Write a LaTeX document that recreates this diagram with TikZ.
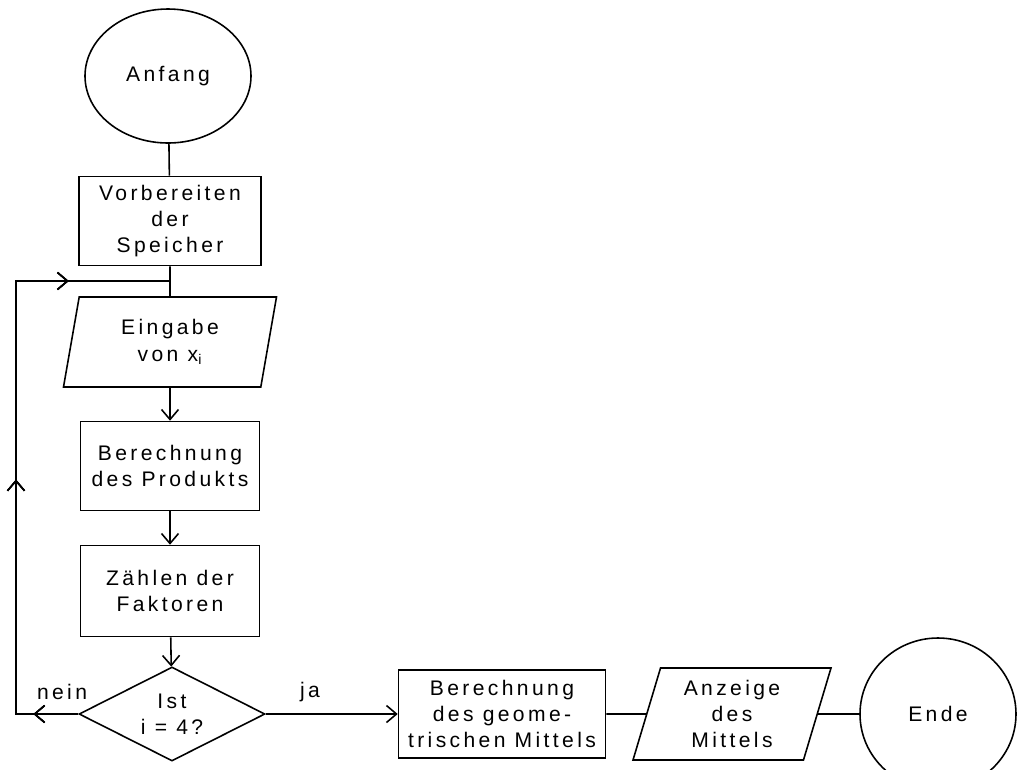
\documentclass[tikz,border=0pt]{standalone}
\usepackage{fontspec}
\setmainfont{Liberation Sans}[LetterSpace=16]
\usetikzlibrary{shapes.geometric,arrows.meta,decorations.markings}
\newlength\pu \setlength\pu{0.02cm}
\tikzset{
  every node/.style={font=\fontsize{12}{15}\selectfont, align=center, inner sep=1pt},
  kasten/.style={draw, rectangle},
  oval/.style={draw, ellipse},
  ein/.style={draw, trapezium, trapezium stretches body, trapezium right angle=180-#1, trapezium left angle=#1},
  raute/.style={draw, diamond, aspect=2},
  pfeil/.style={-{Straight Barb[length=2mm,width=3.4mm]}},
  marke/.style={decoration={markings,mark=at position #1 with {\arrow{Straight Barb[length=2mm,width=3.4mm]}}}, postaction={decorate}}
}
\begin{document}
\begin{tikzpicture}[x=\pu, y=-\pu, line width=0.9pt]
\useasboundingbox (0,0) rectangle (1018,769);
\draw(168,76) node[oval, minimum width=166\pu, minimum height=134\pu] (anfang) {Anfang};
\draw(170,221) node[kasten, minimum width=182\pu, minimum height=89\pu] (speicher) {Vorbereiten\\der\\Speicher};
\coordinate (j) at (170,281);
\draw(170,342) node[ein=72, minimum width=213\pu, minimum height=90\pu] (eingabe) {Eingabe\\von x\textsubscript{i}};
\draw(170,466) node[kasten, minimum width=179\pu, minimum height=89\pu] (produkt) {Berechnung\\des Produkts};
\draw(170,591) node[kasten, minimum width=179\pu, minimum height=91\pu] (zaehlen) {Zählen der\\Faktoren};
\draw(172,714) node[raute, minimum width=186\pu, minimum height=94\pu] (frage) {Ist\\i = 4?};
\draw(62,692) node (nein) {nein};
\draw(310,692) node (ja) {ja};
\draw(502,714) node[kasten, minimum width=207\pu, minimum height=88\pu] (mittel) {Berechnung\\des geome-\\trischen Mittels};
\draw(732,714) node[ein=69, minimum width=198\pu, minimum height=92\pu] (anzeige) {Anzeige\\des\\Mittels};
\draw(938,714) node[oval, minimum width=156\pu, minimum height=152\pu] (ende) {Ende};
\coordinate (ecke1) at (16,714);
\coordinate (ecke2) at (16,281);
% Verbindungen
\draw (anfang) -- (speicher);
\draw (speicher) -- (j) -- (eingabe);
\draw[pfeil] (eingabe) -- (produkt);
\draw[pfeil] (produkt) -- (zaehlen);
\draw[pfeil] (zaehlen) -- (frage);
\draw[pfeil] (frage) -- (mittel);
\draw (mittel) -- (anzeige);
\draw (anzeige) -- (ende);
% Schleife
\draw[marke=0.069, marke=0.457, marke=0.844] (frage.west) -- (ecke1) -- (ecke2) -- (j);
\end{tikzpicture}
\end{document}
